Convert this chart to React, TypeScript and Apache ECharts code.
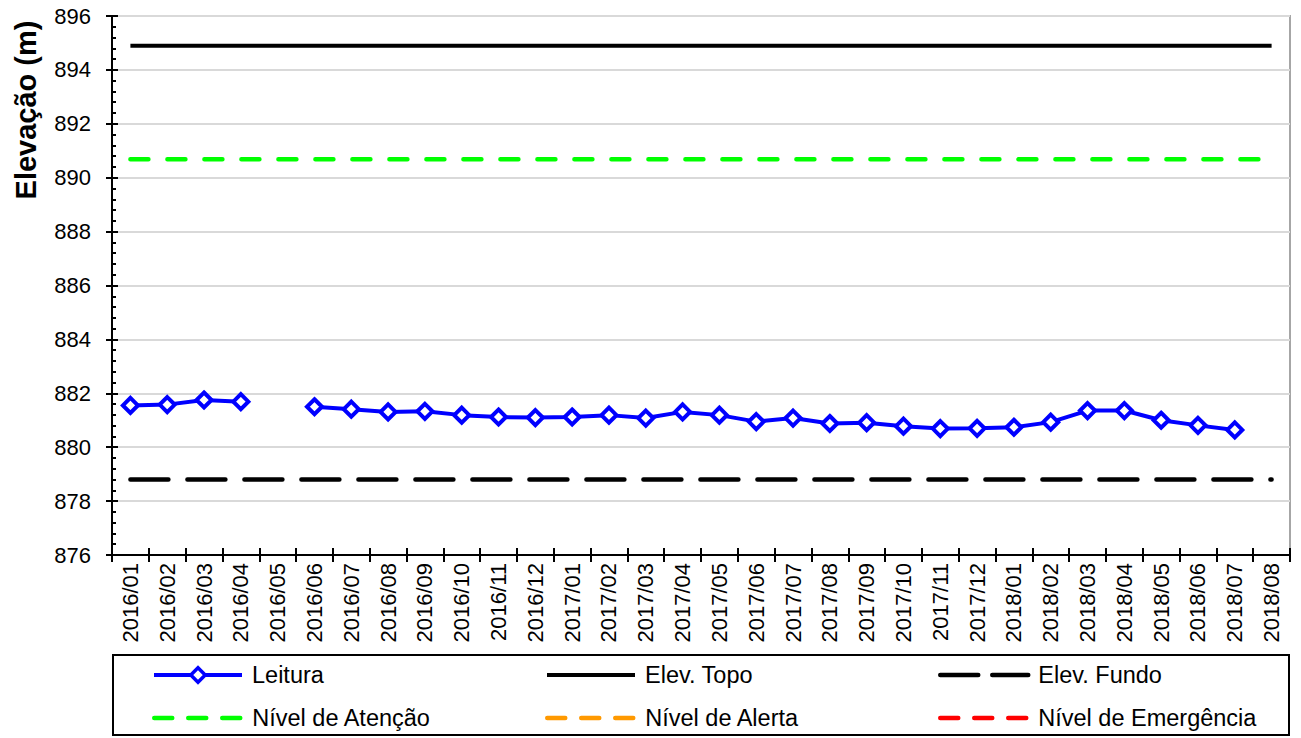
import React, { useEffect, useRef } from "react";
import * as echarts from "echarts";

const categories = [
  "2016/01", "2016/02", "2016/03", "2016/04", "2016/05", "2016/06", "2016/07", "2016/08",
  "2016/09", "2016/10", "2016/11", "2016/12", "2017/01", "2017/02", "2017/03", "2017/04",
  "2017/05", "2017/06", "2017/07", "2017/08", "2017/09", "2017/10", "2017/11", "2017/12",
  "2018/01", "2018/02", "2018/03", "2018/04", "2018/05", "2018/06", "2018/07", "2018/08",
];

const leitura: (number | null)[] = [
  881.55, 881.58, 881.75, 881.69, null, 881.5, 881.41, 881.31,
  881.33, 881.19, 881.12, 881.1, 881.12, 881.19, 881.08, 881.31,
  881.19, 880.95, 881.08, 880.88, 880.91, 880.78, 880.69, 880.7,
  880.74, 880.93, 881.36, 881.36, 881.0, 880.81, 880.64, null,
];

const elevTopo = 894.9;
const elevFundo = 878.8;
const nivelAtencao = 890.68;

const topoData = categories.map(() => elevTopo);
const fundoData = categories.map(() => elevFundo);
const atencaoData = categories.map(() => nivelAtencao);
const alertaData: (number | null)[] = categories.map(() => null);
const emergenciaData: (number | null)[] = categories.map(() => null);

const yMin = 876;
const yMax = 896;
const yStep = 2;

const FONT = "'Liberation Sans', Arial, sans-serif";

const BLUE = "#0000ff";
const GREEN = "#00ff00";
const ORANGE = "#ff9900";
const RED = "#ff0000";

export default function App() {
  const ref = useRef<HTMLDivElement>(null);
  useEffect(() => {
    if (!ref.current) return;
    const chart = echarts.init(ref.current, null, { renderer: "svg" });
    const legendBase = {
      orient: "horizontal" as const,
      itemWidth: 88,
      itemHeight: 18,
      padding: 0,
      selectedMode: false,
      textStyle: { fontSize: 23.5, fontFamily: FONT, color: "#000", padding: [0, 0, 0, 5] },
    };
    const hidden = { opacity: 0 };
    const legendItems = [
      {
        left: 152, top: 663,
        item: {
          name: "Leitura",
          itemStyle: { color: "#fff", borderColor: BLUE, borderWidth: 3.5 },
          lineStyle: { color: BLUE, width: 4, type: "solid" },
        },
      },
      {
        left: 545, top: 663,
        item: { name: "Elev. Topo", itemStyle: hidden, lineStyle: { color: "#000", width: 4, type: "solid" } },
      },
      {
        left: 938, top: 663,
        item: {
          name: "Elev. Fundo",
          itemStyle: hidden,
          lineStyle: { color: "#000", width: 4.5, type: [38, 14], cap: "round" },
        },
      },
      {
        left: 152, top: 706,
        item: {
          name: "Nível de Atenção",
          itemStyle: hidden,
          lineStyle: { color: GREEN, width: 4.5, type: [18, 16], cap: "round" },
        },
      },
      {
        left: 545, top: 706,
        item: {
          name: "Nível de Alerta",
          itemStyle: hidden,
          lineStyle: { color: ORANGE, width: 4.5, type: [18, 16], cap: "round" },
        },
      },
      {
        left: 938, top: 706,
        item: {
          name: "Nível de Emergência",
          itemStyle: hidden,
          lineStyle: { color: RED, width: 4.5, type: [18, 16], cap: "round" },
        },
      },
    ];
    chart.setOption({
      animation: false,
      backgroundColor: "#fff",
      textStyle: { fontFamily: FONT },
      grid: {
        left: 112,
        right: 11,
        top: 16,
        bottom: 183,
        show: true,
        borderColor: "#a6a6a6",
        borderWidth: 2,
        backgroundColor: "transparent",
      },
      legend: legendItems.map((l) => ({
        ...legendBase,
        data: [l.item],
        left: l.left,
        top: l.top,
      })),
      graphic: [
        {
          type: "rect",
          shape: { x: 113, y: 655, width: 1176, height: 80 },
          style: { fill: "none", stroke: "#000", lineWidth: 2 },
          z: 10,
        },
        {
          type: "text",
          x: 26,
          y: 110,
          rotation: Math.PI / 2,
          style: {
            text: "Elevação (m)",
            fontSize: 29,
            fontWeight: "bold",
            fontFamily: FONT,
            fill: "#000",
            align: "center",
            verticalAlign: "middle",
          },
        },
      ],
      xAxis: [
        {
          type: "category",
          data: categories,
          position: "bottom",
          boundaryGap: true,
          axisLine: { onZero: false, lineStyle: { color: "#000", width: 2 } },
          axisTick: { show: true, interval: 0, length: 7, lineStyle: { color: "#000", width: 2 } },
          axisLabel: {
            interval: 0,
            rotate: 90,
            margin: 8,
            fontSize: 22,
            fontFamily: FONT,
            color: "#000",
          },
          splitLine: { show: false },
        },
        {
          type: "category",
          data: categories,
          position: "bottom",
          boundaryGap: true,
          axisLine: { show: false, onZero: false },
          axisTick: { show: true, inside: true, interval: 0, length: 7, lineStyle: { color: "#000", width: 2 } },
          axisLabel: { show: false },
          splitLine: { show: false },
        },
      ],
      yAxis: [
        {
          type: "value",
          min: yMin,
          max: yMax,
          interval: yStep,
          position: "left",
          axisLine: { show: true, onZero: false, lineStyle: { color: "#000", width: 2 } },
          axisTick: { show: true, length: 6, lineStyle: { color: "#000", width: 2 } },
          axisLabel: { fontSize: 22, fontFamily: FONT, color: "#000", margin: 21 },
          splitLine: { show: true, lineStyle: { color: "#d9d9d9", width: 2 } },
        },
        {
          type: "value",
          min: yMin,
          max: yMax,
          interval: yStep,
          position: "left",
          axisLine: { show: false, onZero: false },
          axisTick: { show: true, inside: true, length: 6, lineStyle: { color: "#000", width: 2 } },
          minorTick: { show: true, splitNumber: 5, length: 4, lineStyle: { color: "#000", width: 2 } },
          axisLabel: { show: false },
          splitLine: { show: false },
        },
      ],
      series: [
        {
          name: "Elev. Topo",
          type: "line",
          data: topoData,
          symbol: "none",
          lineStyle: { color: "#000", width: 4 },
          itemStyle: { color: "#000" },
          z: 2,
        },
        {
          name: "Elev. Fundo",
          type: "line",
          data: fundoData,
          symbol: "none",
          lineStyle: { color: "#000", width: 4.5, type: [38, 19], cap: "round" },
          itemStyle: { color: "#000" },
          z: 2,
        },
        {
          name: "Nível de Atenção",
          type: "line",
          data: atencaoData,
          symbol: "none",
          lineStyle: { color: GREEN, width: 4.5, type: [18, 19], cap: "round" },
          itemStyle: { color: GREEN },
          z: 2,
        },
        {
          name: "Nível de Alerta",
          type: "line",
          data: alertaData,
          symbol: "none",
          lineStyle: { color: ORANGE, width: 4.5, type: [18, 19], cap: "round" },
          itemStyle: { color: ORANGE },
          z: 2,
        },
        {
          name: "Nível de Emergência",
          type: "line",
          data: emergenciaData,
          symbol: "none",
          lineStyle: { color: RED, width: 4.5, type: [18, 19], cap: "round" },
          itemStyle: { color: RED },
          z: 2,
        },
        {
          name: "Leitura",
          type: "line",
          data: leitura,
          connectNulls: false,
          symbol: "diamond",
          symbolSize: 15,
          showAllSymbol: true,
          lineStyle: { color: BLUE, width: 4 },
          itemStyle: { color: "#fff", borderColor: BLUE, borderWidth: 4 },
          z: 5,
        },
      ],
    });
    return () => chart.dispose();
  }, []);
  return <div ref={ref} style={{ width: 1301, height: 738, position: "absolute", left: 0, top: 0 }} />;
}
